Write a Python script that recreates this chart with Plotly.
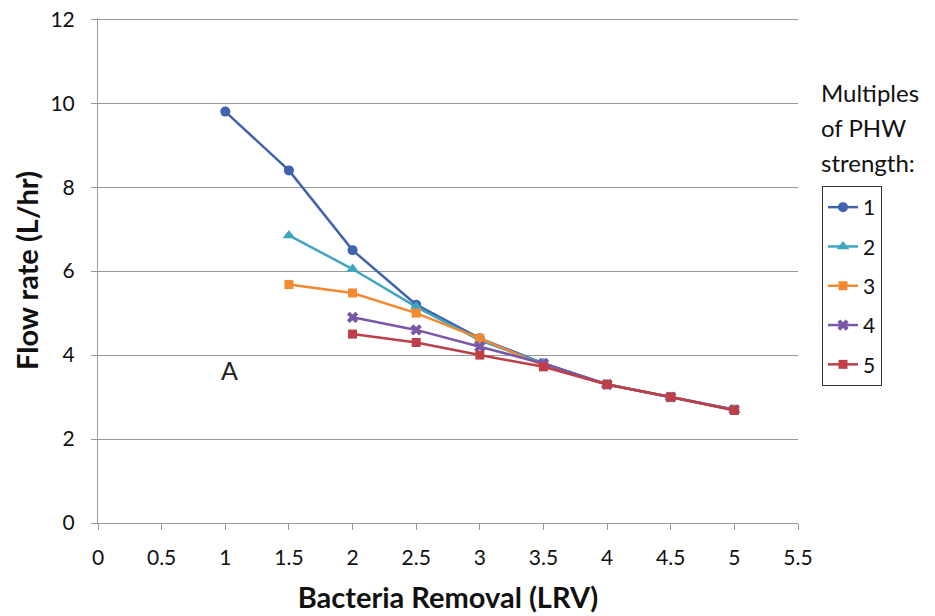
import plotly.graph_objects as go

s1_x = [1, 1.5, 2, 2.5, 3, 3.5, 4, 4.5, 5]
s1_y = [9.8, 8.4, 6.5, 5.2, 4.4, 3.8, 3.3, 3.0, 2.7]
s2_x = [1.5, 2, 2.5, 3, 3.5, 4, 4.5, 5]
s2_y = [6.85, 6.05, 5.15, 4.35, 3.8, 3.3, 3.0, 2.7]
s3_x = [1.5, 2, 2.5, 3, 3.5, 4, 4.5, 5]
s3_y = [5.68, 5.48, 5.0, 4.4, 3.75, 3.3, 3.0, 2.7]
s4_x = [2, 2.5, 3, 3.5, 4, 4.5, 5]
s4_y = [4.9, 4.6, 4.2, 3.8, 3.3, 3.0, 2.7]
s5_x = [2, 2.5, 3, 3.5, 4, 4.5, 5]
s5_y = [4.5, 4.3, 4.0, 3.72, 3.3, 3.0, 2.68]

x_ticks = [0, 0.5, 1, 1.5, 2, 2.5, 3, 3.5, 4, 4.5, 5, 5.5]
x_tick_labels = ["0", "0.5", "1", "1.5", "2", "2.5", "3", "3.5", "4", "4.5", "5", "5.5"]
y_ticks = [0, 2, 4, 6, 8, 10, 12]

names = ["1", "2", "3", "4", "5"]
colors = ["#3f63ad", "#3fa6bf", "#f28a30", "#7a58a6", "#be3f47"]
symbols = ["circle", "triangle-up", "square", "x", "square"]
sizes = [10, 11, 9, 10, 9]
xs = [s1_x, s2_x, s3_x, s4_x, s5_x]
ys = [s1_y, s2_y, s3_y, s4_y, s5_y]

font = "Lato, 'Open Sans', sans-serif"

fig = go.Figure()
for i in range(5):
    fig.add_trace(go.Scatter(
        x=xs[i], y=ys[i], name=names[i], mode="lines+markers",
        line=dict(color=colors[i], width=2.5),
        marker=dict(symbol=symbols[i], size=sizes[i], color=colors[i]),
        legendgroup=names[i],
    ))

fig.add_annotation(x=1.03, y=3.64, text="A", showarrow=False, xref="x", yref="y",
                   font=dict(size=25, color="#222", family=font))
title_lines = ["Multiples", "of PHW", "strength:"]
for k, line in enumerate(title_lines):
    fig.add_annotation(x=(819 - 98) / 700, y=1.0 - (76 + 35 * k - 18) / 505, xref="paper", yref="paper",
                       text=line, showarrow=False, xanchor="left", yanchor="top", align="left",
                       font=dict(size=24, color="#111", family=font))

fig.update_layout(
    width=935, height=616,
    margin=dict(l=98, r=137, t=18, b=93, autoexpand=False),
    paper_bgcolor="white", plot_bgcolor="white",
    font=dict(family=font, color="#111"),
    legend=dict(x=(822 - 98) / 700, y=(523 - 186) / 505, xanchor="left", yanchor="top",
                bordercolor="#333", borderwidth=1, bgcolor="white",
                font=dict(size=21, family=font), tracegroupgap=9,
                traceorder="grouped", itemwidth=30),
    xaxis=dict(range=[0, 5.5], tickvals=x_ticks, ticktext=x_tick_labels,
               showgrid=False, showline=True, linecolor="#999", linewidth=1,
               ticks="outside", ticklen=6, tickcolor="#999", ticklabelstandoff=10,
               ticklabeloverflow="allow",
               tickfont=dict(size=21, family=font),
               title=dict(text="<b>Bacteria Removal (LRV)</b>", font=dict(size=29, family=font), standoff=19),
               zeroline=False),
    yaxis=dict(range=[0, 12.03], tickvals=y_ticks,
               showgrid=True, gridcolor="#999", gridwidth=1,
               showline=True, linecolor="#999", linewidth=1,
               ticks="outside", ticklen=6, tickcolor="#999", ticklabelstandoff=12,
               ticklabeloverflow="allow",
               tickfont=dict(size=21, family=font),
               title=dict(text="<b>Flow rate (L/hr)</b>", font=dict(size=29, family=font), standoff=3),
               zeroline=False),
)

fig.write_html("out.html", config={"displayModeBar": False},
               post_script="document.body.style.margin='0';document.body.style.overflow='hidden';")
